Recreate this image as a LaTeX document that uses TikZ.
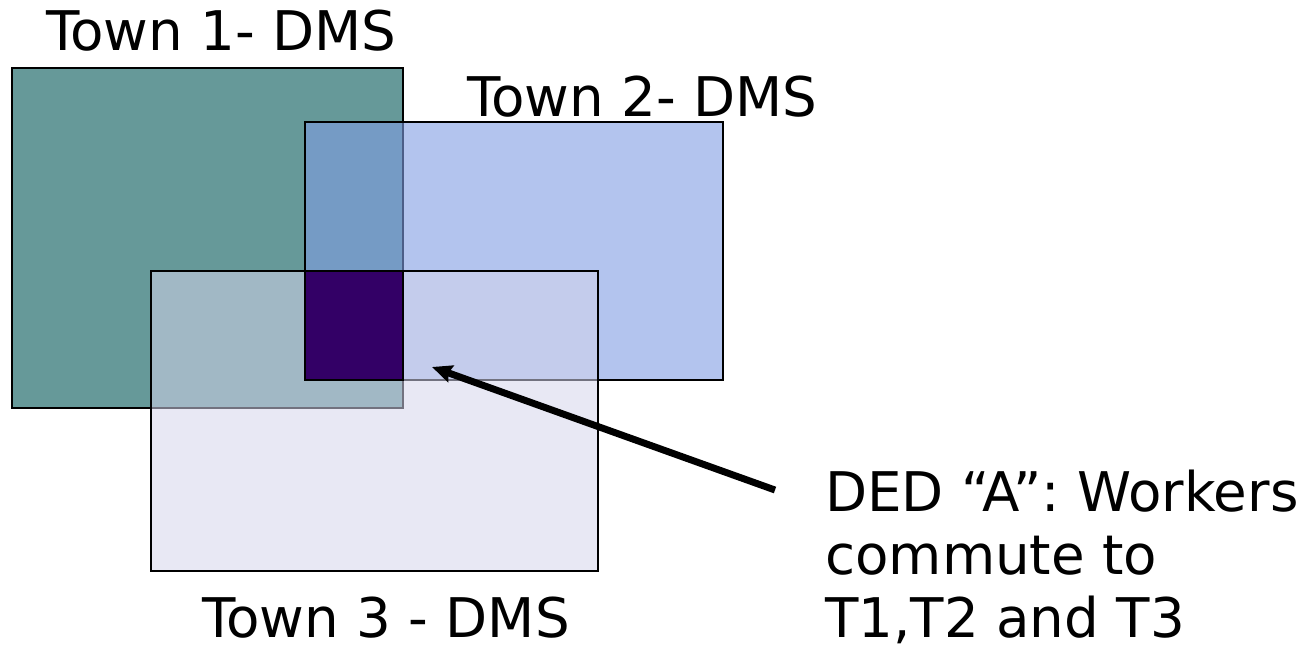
\documentclass[tikz,border=0pt]{standalone}
\usepackage{fontspec}
\setmainfont{DejaVu Sans}
\usetikzlibrary{arrows.meta}
\definecolor{townone}{RGB}{102,153,153}
\definecolor{towntwo}{RGB}{128,157,227}
\definecolor{townthree}{RGB}{212,212,235}
\definecolor{dedcol}{RGB}{51,0,102}

\begin{document}
\begin{tikzpicture}[x=0.75pt, y=-0.75pt, font=\fontsize{41}{47}\selectfont, town/.style={draw, line width=1.8pt, inner sep=0pt, outer sep=0pt}, lbl/.style={inner sep=0pt, anchor=base west, align=left}]
\useasboundingbox (0,0) rectangle (1301,651);
\node[town, fill=townone, minimum width=293.25pt, minimum height=255pt] (t1) at (207.5,238) {};
\node[town, fill=towntwo, fill opacity=0.6, minimum width=313.5pt, minimum height=193.5pt] (t2) at (514,251) {};
\node[town, fill=townthree, fill opacity=0.54, minimum width=335.25pt, minimum height=225pt] (t3) at (374.5,421) {};
\node[town, fill=dedcol, minimum width=73.5pt, minimum height=81.75pt] (ded) at (354,325.5) {};
\node[lbl] (t1lbl) at (46,50) {Town 1- DMS};
\node[lbl] (t2lbl) at (467,116) {Town 2- DMS};
\node[lbl] (t3lbl) at (202,637) {Town 3 - DMS};
\node[lbl] (dedlbl) at (825,637) {DED “A”: Workers\\commute to\\T1,T2 and T3};
\coordinate (tail) at (775,490);
\coordinate (tip) at (432,367);
\draw[line width=5.2pt, -{Stealth[length=15pt, width=13pt, inset=2pt]}] (tail) -- (tip);
\end{tikzpicture}
\end{document}
